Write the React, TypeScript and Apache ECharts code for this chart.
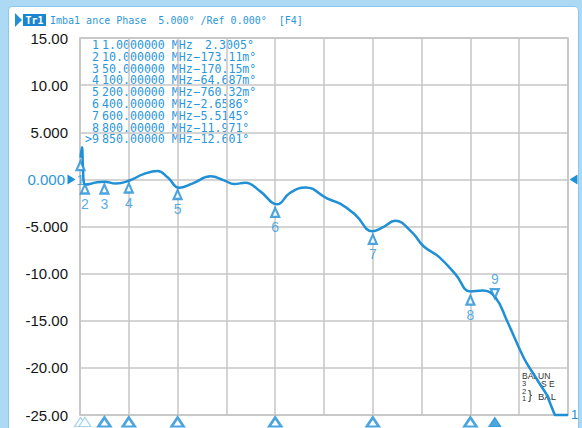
import React, { useEffect, useRef } from 'react';
import * as echarts from 'echarts';

// ---- data ----
const freqMHz = [1, 4, 6, 8, 12, 20, 35, 50, 73, 100, 130, 159, 180, 203, 230, 268, 295, 316, 339, 370, 404, 430, 462, 507, 534, 565, 599, 620, 646, 680, 704, 735, 770, 800, 825, 851, 875, 909, 930, 956, 973, 1000];
const phaseDeg = [2.3, 3.4, 1.2, -0.4, -0.55, -0.5, -0.3, -0.25, -0.45, -0.15, 0.55, 0.9, 0.2, -0.9, -0.45, 0.32, -0.1, -0.5, -0.35, -1.3, -2.65, -1.45, -0.85, -2.05, -2.6, -3.8, -5.5, -5.1, -4.4, -5.6, -7.1, -8.2, -10.1, -11.9, -11.8, -12.5, -15.0, -18.9, -20.7, -22.8, -25, -25];
// index from which the trace is clamped to the bottom of the screen (drawn as straight segments)
const clampStart = 39;

const markerIds = ['1', '2', '3', '4', '5', '6', '7', '8', '9'];
const markerFreqs = [1, 10, 50, 100, 200, 400, 600, 800, 850];
const markerVals = [2.3005, -0.17311, -0.17015, -0.064687, -0.76032, -2.6586, -5.5145, -11.971, -12.601];
const markerFreqText = ['1.0000000', '10.000000', '50.000000', '100.00000', '200.00000', '400.00000', '600.00000', '800.00000', '850.00000'];
const markerValText = ['2.3005°', '−173.11m°', '−170.15m°', '−64.687m°', '−760.32m°', '−2.6586°', '−5.5145°', '−11.971°', '−12.601°'];
const activeMarker = 9;

const yTickLabels = ['-25.00', '-20.00', '-15.00', '-10.00', '-5.000', '0.000', '5.000', '10.00', '15.00'];
const titleText = 'Imba1 ance Phase  5.000° /Ref 0.000°  [F4]';
const traceName = 'Tr1';
const yMin = -25, yMax = 15, yStep = 5;
const xMin = 0, xMax = 1000, xStep = 100;

const BLUE = '#1f8fd6';
const TXT_BLUE = '#2b97dc';

export default function App() {
  const ref = useRef<HTMLDivElement>(null);
  useEffect(() => {
    if (!ref.current) return;
    const chart = echarts.init(ref.current, null, { renderer: 'svg' });

    const graphics: any[] = [];
    // title
    graphics.push({ type: 'polygon', shape: { points: [[15, 13], [22, 20], [15, 27]] }, style: { fill: BLUE } });
    graphics.push({ type: 'rect', shape: { x: 23, y: 14, width: 23, height: 12 }, style: { fill: '#1a86cf' } });
    graphics.push({ type: 'text', x: 34.5, y: 20, style: { text: traceName, fill: '#ffffff', font: 'bold 10px "DejaVu Sans Mono"', align: 'center', verticalAlign: 'middle' } });
    graphics.push({ type: 'text', x: 50, y: 20, style: { text: titleText, fill: TXT_BLUE, font: '10px "DejaVu Sans Mono"', align: 'left', verticalAlign: 'middle' } });

    // marker table, one multi-line text per column
    const LH = 11.8;
    const top = 45 - LH / 2;
    const tfont = '11.6px "DejaVu Sans Mono"';
    const numCol = markerIds.map((id) => (Number(id) === activeMarker ? '>' + id : id)).join('\n');
    const freqCol = markerFreqText.map((t) => t + ' MHz').join('\n');
    const valCol = markerValText.map((v) => (v.startsWith('−') ? `{n|${v}}` : `{p|${v}}`)).join('\n');
    graphics.push({ type: 'text', x: 99, y: top, style: { text: numCol, fill: TXT_BLUE, font: tfont, align: 'right', verticalAlign: 'top', lineHeight: LH } });
    graphics.push({ type: 'text', x: 102, y: top, style: { text: freqCol, fill: TXT_BLUE, font: tfont, align: 'left', verticalAlign: 'top', lineHeight: LH } });
    graphics.push({
      type: 'text', x: 193.5, y: top,
      style: {
        text: valCol, fill: TXT_BLUE, font: tfont, align: 'left', verticalAlign: 'top', lineHeight: LH,
        rich: {
          n: { fill: TXT_BLUE, font: tfont, lineHeight: LH },
          p: { fill: TXT_BLUE, font: tfont, lineHeight: LH, padding: [0, 0, 0, 11.5] },
        },
      },
    });

    // BALUN legend
    const lf = '7.5px "Liberation Sans"';
    const lc = '#333333';
    const ls = { fill: lc, font: lf, verticalAlign: 'middle', lineHeight: 7 };
    graphics.push({ type: 'text', x: 522, y: 375.5, style: { ...ls, text: 'BALUN', font: '8.5px "Liberation Sans"', lineHeight: 8 } });
    graphics.push({ type: 'text', x: 522, y: 383.5, style: { ...ls, text: '3' } });
    graphics.push({ type: 'text', x: 541, y: 384, style: { ...ls, text: 'S E', font: '8.5px "Liberation Sans"', lineHeight: 8 } });
    graphics.push({ type: 'text', x: 522, y: 391, style: { ...ls, text: '2' } });
    graphics.push({ type: 'text', x: 522, y: 398.5, style: { ...ls, text: '1' } });
    graphics.push({ type: 'text', x: 528, y: 395, style: { ...ls, text: '}', font: '12px "Liberation Sans"', lineHeight: 12 } });
    graphics.push({ type: 'text', x: 538, y: 396.5, style: { ...ls, text: 'BAL', font: '9.5px "Liberation Sans"', lineHeight: 9 } });
    // trace end label
    graphics.push({ type: 'text', x: 571, y: 414, style: { text: '1', fill: BLUE, font: '13px "Liberation Sans"', verticalAlign: 'middle' } });

    const pts = freqMHz.map((f, i) => [f, phaseDeg[i]]);

    const option: any = {
      animation: false,
      grid: { left: 80, right: 14, top: 38, bottom: 13, show: true, borderColor: '#bdbdbd', borderWidth: 1.5 },
      xAxis: {
        type: 'value', min: xMin, max: xMax, interval: xStep,
        axisLabel: { show: false }, axisTick: { show: false }, axisLine: { show: false },
        splitLine: { show: true, lineStyle: { color: '#c6c6c6', width: 1.5 } },
      },
      yAxis: {
        type: 'value', min: yMin, max: yMax, interval: yStep,
        axisTick: { show: false }, axisLine: { show: false },
        splitLine: { show: true, lineStyle: { color: '#c6c6c6', width: 1.5 } },
        axisLabel: {
          margin: 12, color: '#151515', fontSize: 15, fontFamily: 'Liberation Sans',
          formatter: (v: number) => {
            const i = Math.round((v - yMin) / yStep);
            const s = yTickLabels[i];
            return v === 0 ? `{z|${s}}` : s;
          },
          rich: { z: { color: TXT_BLUE, fontSize: 15, fontFamily: 'Liberation Sans', padding: [0, 3, 0, 0] } },
        },
      },
      graphic: graphics,
      series: [
        {
          type: 'line',
          data: pts.slice(0, clampStart + 1),
          smooth: 0.45,
          symbol: 'none',
          lineStyle: { color: BLUE, width: 2.5 },
          z: 3,
          markPoint: {
            symbol: 'triangle',
            symbolSize: [10, 8],
            itemStyle: { color: BLUE },
            label: { show: false },
            data: [
              { coord: [xMin, 0], symbolRotate: -90, symbolOffset: [-8.5, 0] },
              { coord: [xMax, 0], symbolRotate: 90, symbolOffset: [5.5, 0] },
            ],
          },
        },
        {
          type: 'line',
          data: pts.slice(clampStart),
          smooth: false,
          symbol: 'none',
          clip: false,
          lineStyle: { color: BLUE, width: 2.5 },
          z: 3,
        },
        {
          type: 'scatter',
          z: 4,
          clip: false,
          symbol: 'triangle',
          symbolSize: [8, 9],
          itemStyle: { color: '#ffffff', borderColor: BLUE, borderWidth: 2.2 },
          label: {
            show: true, color: TXT_BLUE, fontSize: 14, fontFamily: 'Liberation Sans', distance: 2,
            formatter: (p: any) => markerIds[p.dataIndex],
          },
          data: markerFreqs.map((f, i) => {
            const active = Number(markerIds[i]) === activeMarker;
            return {
              value: [f, markerVals[i]],
              symbolRotate: active ? 180 : 0,
              symbolOffset: active ? [0, -4.5] : [0, 8],
              label: { position: active ? 'top' : 'bottom' },
            };
          }),
        },
        {
          type: 'scatter',
          z: 4,
          clip: false,
          symbol: 'triangle',
          symbolSize: [12, 9],
          data: markerFreqs.map((f, i) => {
            const active = Number(markerIds[i]) === activeMarker;
            const faint = i < 2;
            return {
              value: [f, yMin],
              symbolOffset: [0, 7],
              itemStyle: faint
                ? { color: '#ffffff', borderColor: '#9fcfee', borderWidth: 1.2, opacity: 0.9 }
                : active
                  ? { color: BLUE, borderColor: BLUE, borderWidth: 1 }
                  : { color: '#ffffff', borderColor: BLUE, borderWidth: 2.5 },
            };
          }),
        },
      ],
    };
    chart.setOption(option);
    return () => chart.dispose();
  }, []);

  return (
    <div style={{ position: 'fixed', left: 0, top: 0, width: 582, height: 428, background: '#acd9f4', overflow: 'hidden' }}>
      <div style={{ position: 'absolute', left: 8, top: 6, width: 571, height: 440, background: '#ffffff', border: '1px solid #8cc6ea', borderRadius: 4, boxSizing: 'border-box' }} />
      <div ref={ref} style={{ position: 'absolute', left: 0, top: 0, width: 582, height: 428 }} />
    </div>
  );
}
